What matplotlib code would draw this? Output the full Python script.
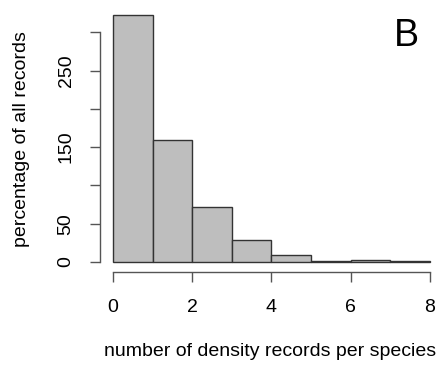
import matplotlib
matplotlib.use("Agg")
import matplotlib.pyplot as plt
import numpy as np

plt.rcParams['font.family'] = ['Liberation Sans', 'DejaVu Sans']

# histogram bins and heights
bin_edges = np.array([0, 1, 2, 3, 4, 5, 6, 7, 8])
heights = np.array([322, 159, 72, 29, 9, 1, 3, 2])

y_ticks = [0, 50, 100, 150, 200, 250, 300]
y_labels = ['0', '50', '', '150', '', '250', '']
x_ticks = [0, 2, 4, 6, 8]

fig = plt.figure(figsize=(4.4, 3.71), dpi=100)
ax = fig.add_axes([100 / 440, 99 / 371, 340 / 440, 262 / 371])

ax.bar(bin_edges[:-1], heights, width=np.diff(bin_edges), align='edge',
       color='#bebebe', edgecolor='#333333', linewidth=1.0)

ax.set_xlim(-0.33, 8.26)
ax.set_ylim(-13, 329)

for s in ['top', 'right']:
    ax.spines[s].set_visible(False)
ax.spines['left'].set_bounds(0, 300)
ax.spines['bottom'].set_bounds(0, 8)
for s in ['left', 'bottom']:
    ax.spines[s].set_color('#555555')
    ax.spines[s].set_linewidth(1.0)

ax.set_yticks(y_ticks)
ax.set_yticklabels(y_labels, rotation=90, va='center')
ax.set_xticks(x_ticks)
ax.set_xticklabels([str(t) for t in x_ticks])
ax.tick_params(axis='both', direction='out', length=7.2, width=1.0,
               color='#555555', labelsize=14)
ax.tick_params(axis='x', pad=12)
ax.tick_params(axis='y', pad=11)

fig.text(22 / 440, 1 - 139 / 371, 'percentage of all records', rotation=90,
         ha='center', va='center', fontsize=14)
fig.text(270 / 440, 1 - 352 / 371, 'number of density records per species',
         ha='center', va='center', fontsize=14)
fig.text(406 / 440, 1 - 36 / 371, 'B', ha='center', va='center', fontsize=27)

fig.savefig('out.png', dpi=100)
